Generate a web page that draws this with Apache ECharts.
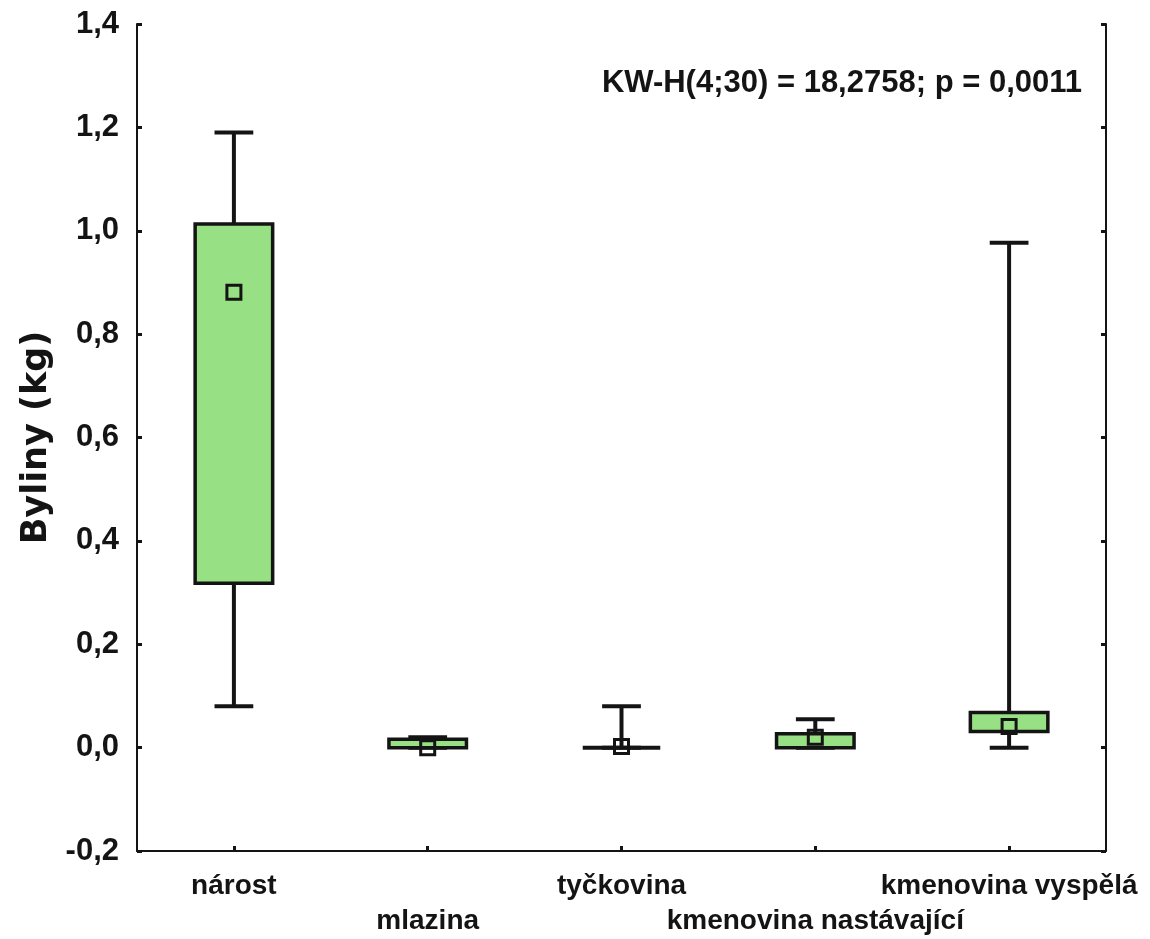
<!DOCTYPE html>
<html>
<head>
<meta charset="utf-8">
<script src="https://cdn.jsdelivr.net/npm/echarts@6/dist/echarts.min.js"></script>
<style>
html,body{margin:0;padding:0;background:#fff;}
#chart{width:1150px;height:939px;}
</style>
</head>
<body>
<div id="chart"></div>
<script>
var chart = echarts.init(document.getElementById('chart'));

var categories = ['nárost', 'mlazina', 'tyčkovina', 'kmenovina nastávající', 'kmenovina vyspělá'];
var whiskerLow = [0.080, 0, 0, 0, 0];
var boxLow = [0.318, 0, 0, 0, 0.031];
var median = [0.881, 0, 0.002, 0.020, 0.041];
var boxHigh = [1.013, 0.016, 0, 0.027, 0.068];
var whiskerHigh = [1.190, 0.020, 0.080, 0.055, 0.977];
var yTicks = {min: -0.2, max: 1.4, step: 0.2};

var boxData = [];
for (var i = 0; i < categories.length; i++) {
    boxData.push([i, whiskerLow[i], boxLow[i], median[i], boxHigh[i], whiskerHigh[i]]);
}

var fill = '#97E084';
var ink = '#141414';

function fmt(v) {
    return v.toFixed(1).replace('.', ',');
}

function renderBox(params, api) {
    var idx = api.value(0);
    var band = api.size([1, 0])[0];
    var boxW = band * 0.4, capW = band * 0.2;
    var pLow = api.coord([idx, api.value(1)]);
    var pQ1 = api.coord([idx, api.value(2)]);
    var pMed = api.coord([idx, api.value(3)]);
    var pQ3 = api.coord([idx, api.value(4)]);
    var pHigh = api.coord([idx, api.value(5)]);
    var x = pQ1[0];
    var line = {stroke: ink, lineWidth: 4};
    var kids = [];
    // whiskers
    kids.push({type: 'line', shape: {x1: x, y1: pHigh[1], x2: x, y2: pQ3[1]}, style: line});
    kids.push({type: 'line', shape: {x1: x, y1: pQ1[1], x2: x, y2: pLow[1]}, style: line});
    kids.push({type: 'line', shape: {x1: x - capW / 2, y1: pHigh[1], x2: x + capW / 2, y2: pHigh[1]}, style: line});
    kids.push({type: 'line', shape: {x1: x - capW / 2, y1: pLow[1], x2: x + capW / 2, y2: pLow[1]}, style: line});
    // box
    var h = pQ1[1] - pQ3[1];
    if (h > 1) {
        kids.push({
            type: 'rect',
            shape: {x: x - boxW / 2, y: pQ3[1], width: boxW, height: h},
            style: {fill: fill, stroke: ink, lineWidth: 3.5}
        });
    } else {
        kids.push({type: 'line', shape: {x1: x - boxW / 2, y1: pQ1[1], x2: x + boxW / 2, y2: pQ1[1]}, style: line});
    }
    // median marker
    kids.push({
        type: 'rect',
        shape: {x: x - 7, y: pMed[1] - 7, width: 14, height: 14},
        style: {fill: 'none', stroke: ink, lineWidth: 3}
    });
    return {type: 'group', children: kids};
}

var yCommon = {
    type: 'value',
    min: yTicks.min,
    max: yTicks.max,
    interval: yTicks.step,
    splitLine: {show: false},
    axisLine: {show: true, lineStyle: {color: ink, width: 2}},
    axisTick: {show: true, inside: true, length: 5, lineStyle: {color: ink, width: 3}}
};

var option = {
    backgroundColor: '#fff',
    animation: false,
    grid: {left: 137, right: 44, top: 24, bottom: 87},
    xAxis: {
        type: 'category',
        data: categories,
        boundaryGap: true,
        axisLine: {show: true, onZero: false, lineStyle: {color: ink, width: 2}},
        axisTick: {show: true, inside: true, alignWithLabel: true, length: 5, lineStyle: {color: ink, width: 3}},
        axisLabel: {
            interval: 0,
            margin: 18,
            fontSize: 28,
            lineHeight: 35,
            fontWeight: 'bold',
            fontFamily: 'Liberation Sans, Arial, sans-serif',
            color: ink,
            formatter: function (v, i) { return i % 2 ? '\n' + v : v; }
        }
    },
    yAxis: [
        Object.assign({}, yCommon, {
            position: 'left',
            name: 'Byliny (kg)',
            nameLocation: 'middle',
            nameGap: 80,
            nameTextStyle: {fontSize: 35, fontWeight: 'bold', fontFamily: 'DejaVu Sans, sans-serif', color: ink},
            axisLabel: {
                fontSize: 31, fontWeight: 'bold', margin: 18,
                fontFamily: 'Liberation Sans, Arial, sans-serif', color: ink,
                formatter: fmt
            }
        }),
        Object.assign({}, yCommon, {
            position: 'right',
            axisLabel: {show: false}
        })
    ],
    graphic: [{
        type: 'text',
        x: 1082,
        y: 83,
        style: {
            text: 'KW-H(4;30) = 18,2758; p = 0,0011',
            align: 'right',
            verticalAlign: 'middle',
            fontSize: 31,
            fontWeight: 'bold',
            fontFamily: 'Liberation Sans, Arial, sans-serif',
            fill: ink
        }
    }],
    series: [{
        type: 'custom',
        renderItem: renderBox,
        encode: {x: 0, y: [1, 2, 3, 4, 5]},
        data: boxData,
        z: 5
    }]
};
chart.setOption(option);
</script>
</body>
</html>
